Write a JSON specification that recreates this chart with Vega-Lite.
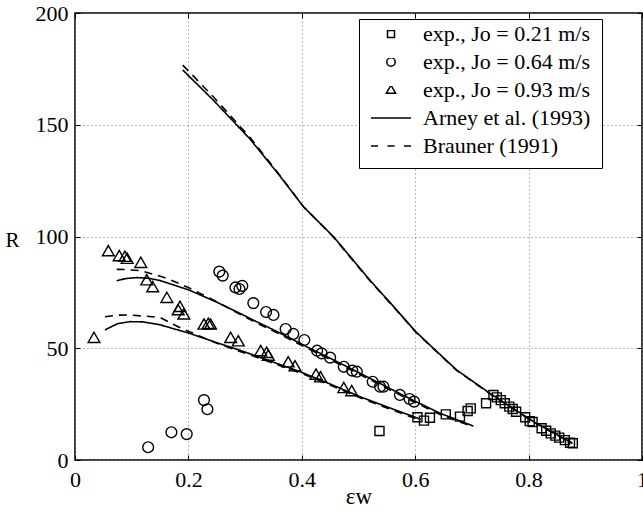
{
  "$schema": "https://vega.github.io/schema/vega-lite/v6.json",
  "width": 567,
  "height": 447,
  "autosize": {"type": "none"},
  "padding": {"left": 75, "top": 13, "right": 1, "bottom": 55},
  "background": "white",
  "config": {
    "font": "Liberation Serif",
    "view": {"stroke": "black", "strokeWidth": 1.5},
    "axis": {"domain": false, "tickColor": "black", "tickWidth": 1, "labelColor": "black", "titleColor": "black", "labelFont": "Liberation Serif", "titleFont": "Liberation Serif", "titleFontWeight": "normal"},
    "legend": {"labelFont": "Liberation Serif"}
  },
  "datasets": {
    "lines": [
      {"m": "Arney", "c": "a1", "x": 0.19, "R": 174.5},
      {"m": "Arney", "c": "a1", "x": 0.244, "R": 161},
      {"m": "Arney", "c": "a1", "x": 0.309, "R": 143.5},
      {"m": "Arney", "c": "a1", "x": 0.36, "R": 127.5},
      {"m": "Arney", "c": "a1", "x": 0.403, "R": 113.3},
      {"m": "Arney", "c": "a1", "x": 0.456, "R": 99.9},
      {"m": "Arney", "c": "a1", "x": 0.52, "R": 80.5},
      {"m": "Arney", "c": "a1", "x": 0.56, "R": 69.2},
      {"m": "Arney", "c": "a1", "x": 0.601, "R": 57.4},
      {"m": "Arney", "c": "a1", "x": 0.632, "R": 50},
      {"m": "Arney", "c": "a1", "x": 0.673, "R": 40.3},
      {"m": "Arney", "c": "a1", "x": 0.732, "R": 29.8},
      {"m": "Arney", "c": "a1", "x": 0.77, "R": 23.5},
      {"m": "Arney", "c": "a1", "x": 0.81, "R": 17},
      {"m": "Arney", "c": "a1", "x": 0.85, "R": 11.3},
      {"m": "Arney", "c": "a1", "x": 0.877, "R": 7.6},
      {"m": "Brauner", "c": "b1", "x": 0.19, "R": 176.7},
      {"m": "Brauner", "c": "b1", "x": 0.244, "R": 162.5},
      {"m": "Brauner", "c": "b1", "x": 0.309, "R": 144.2},
      {"m": "Brauner", "c": "b1", "x": 0.36, "R": 127.8},
      {"m": "Brauner", "c": "b1", "x": 0.403, "R": 113.3},
      {"m": "Brauner", "c": "b1", "x": 0.456, "R": 99.7},
      {"m": "Brauner", "c": "b1", "x": 0.52, "R": 80.2},
      {"m": "Brauner", "c": "b1", "x": 0.56, "R": 69},
      {"m": "Brauner", "c": "b1", "x": 0.601, "R": 57.2},
      {"m": "Brauner", "c": "b1", "x": 0.632, "R": 49.8},
      {"m": "Brauner", "c": "b1", "x": 0.673, "R": 40.1},
      {"m": "Brauner", "c": "b1", "x": 0.732, "R": 29.6},
      {"m": "Brauner", "c": "b1", "x": 0.77, "R": 23.3},
      {"m": "Brauner", "c": "b1", "x": 0.81, "R": 16.8},
      {"m": "Brauner", "c": "b1", "x": 0.85, "R": 11.1},
      {"m": "Brauner", "c": "b1", "x": 0.877, "R": 7.4},
      {"m": "Arney", "c": "a2", "x": 0.0735, "R": 80.2},
      {"m": "Arney", "c": "a2", "x": 0.09, "R": 81.2},
      {"m": "Arney", "c": "a2", "x": 0.109, "R": 81.6},
      {"m": "Arney", "c": "a2", "x": 0.13, "R": 81.3},
      {"m": "Arney", "c": "a2", "x": 0.15, "R": 80.3},
      {"m": "Arney", "c": "a2", "x": 0.2016, "R": 76},
      {"m": "Arney", "c": "a2", "x": 0.25, "R": 70.6},
      {"m": "Arney", "c": "a2", "x": 0.291, "R": 65.6},
      {"m": "Arney", "c": "a2", "x": 0.3145, "R": 62.6},
      {"m": "Arney", "c": "a2", "x": 0.36, "R": 57},
      {"m": "Arney", "c": "a2", "x": 0.4086, "R": 50.7},
      {"m": "Arney", "c": "a2", "x": 0.47, "R": 43},
      {"m": "Arney", "c": "a2", "x": 0.526, "R": 35.8},
      {"m": "Arney", "c": "a2", "x": 0.59, "R": 27.5},
      {"m": "Arney", "c": "a2", "x": 0.644, "R": 20.9},
      {"m": "Arney", "c": "a2", "x": 0.7025, "R": 15.2},
      {"m": "Brauner", "c": "b2", "x": 0.0735, "R": 85.3},
      {"m": "Brauner", "c": "b2", "x": 0.09, "R": 85.2},
      {"m": "Brauner", "c": "b2", "x": 0.115, "R": 84.7},
      {"m": "Brauner", "c": "b2", "x": 0.14, "R": 83},
      {"m": "Brauner", "c": "b2", "x": 0.162, "R": 81.3},
      {"m": "Brauner", "c": "b2", "x": 0.2016, "R": 77},
      {"m": "Brauner", "c": "b2", "x": 0.25, "R": 70.8},
      {"m": "Brauner", "c": "b2", "x": 0.291, "R": 65.2},
      {"m": "Brauner", "c": "b2", "x": 0.3145, "R": 62.1},
      {"m": "Brauner", "c": "b2", "x": 0.36, "R": 56.4},
      {"m": "Brauner", "c": "b2", "x": 0.4086, "R": 50.1},
      {"m": "Brauner", "c": "b2", "x": 0.47, "R": 42.4},
      {"m": "Brauner", "c": "b2", "x": 0.526, "R": 35.2},
      {"m": "Brauner", "c": "b2", "x": 0.59, "R": 26.9},
      {"m": "Brauner", "c": "b2", "x": 0.644, "R": 20.3},
      {"m": "Brauner", "c": "b2", "x": 0.7025, "R": 14.8},
      {"m": "Arney", "c": "a3", "x": 0.0529, "R": 58.2},
      {"m": "Arney", "c": "a3", "x": 0.075, "R": 61},
      {"m": "Arney", "c": "a3", "x": 0.097, "R": 61.9},
      {"m": "Arney", "c": "a3", "x": 0.12, "R": 61.8},
      {"m": "Arney", "c": "a3", "x": 0.15, "R": 60.5},
      {"m": "Arney", "c": "a3", "x": 0.2016, "R": 56.7},
      {"m": "Arney", "c": "a3", "x": 0.25, "R": 52.5},
      {"m": "Arney", "c": "a3", "x": 0.291, "R": 49.1},
      {"m": "Arney", "c": "a3", "x": 0.3145, "R": 47},
      {"m": "Arney", "c": "a3", "x": 0.397, "R": 39.5},
      {"m": "Arney", "c": "a3", "x": 0.45, "R": 34},
      {"m": "Arney", "c": "a3", "x": 0.503, "R": 28.3},
      {"m": "Arney", "c": "a3", "x": 0.55, "R": 23.8},
      {"m": "Arney", "c": "a3", "x": 0.597, "R": 19.4},
      {"m": "Arney", "c": "a3", "x": 0.61, "R": 18.2},
      {"m": "Brauner", "c": "b3", "x": 0.0529, "R": 64.1},
      {"m": "Brauner", "c": "b3", "x": 0.075, "R": 64.8},
      {"m": "Brauner", "c": "b3", "x": 0.097, "R": 64.9},
      {"m": "Brauner", "c": "b3", "x": 0.15, "R": 63.8},
      {"m": "Brauner", "c": "b3", "x": 0.182, "R": 59.6},
      {"m": "Brauner", "c": "b3", "x": 0.2016, "R": 57.4},
      {"m": "Brauner", "c": "b3", "x": 0.25, "R": 52.2},
      {"m": "Brauner", "c": "b3", "x": 0.291, "R": 48.6},
      {"m": "Brauner", "c": "b3", "x": 0.3145, "R": 46.5},
      {"m": "Brauner", "c": "b3", "x": 0.397, "R": 39},
      {"m": "Brauner", "c": "b3", "x": 0.45, "R": 33.5},
      {"m": "Brauner", "c": "b3", "x": 0.503, "R": 27.8},
      {"m": "Brauner", "c": "b3", "x": 0.55, "R": 23.3},
      {"m": "Brauner", "c": "b3", "x": 0.597, "R": 18.9},
      {"m": "Brauner", "c": "b3", "x": 0.61, "R": 17.7}
    ],
    "pts": [
      {"s": "exp., Jo = 0.21 m/s", "x": 0.537, "R": 13.0},
      {"s": "exp., Jo = 0.21 m/s", "x": 0.604, "R": 19.1},
      {"s": "exp., Jo = 0.21 m/s", "x": 0.6155, "R": 17.6},
      {"s": "exp., Jo = 0.21 m/s", "x": 0.626, "R": 18.9},
      {"s": "exp., Jo = 0.21 m/s", "x": 0.654, "R": 20.4},
      {"s": "exp., Jo = 0.21 m/s", "x": 0.679, "R": 19.4},
      {"s": "exp., Jo = 0.21 m/s", "x": 0.6925, "R": 21.9},
      {"s": "exp., Jo = 0.21 m/s", "x": 0.698, "R": 23.1},
      {"s": "exp., Jo = 0.21 m/s", "x": 0.725, "R": 25.4},
      {"s": "exp., Jo = 0.21 m/s", "x": 0.738, "R": 29.1},
      {"s": "exp., Jo = 0.21 m/s", "x": 0.744, "R": 28.0},
      {"s": "exp., Jo = 0.21 m/s", "x": 0.751, "R": 26.8},
      {"s": "exp., Jo = 0.21 m/s", "x": 0.758, "R": 25.4},
      {"s": "exp., Jo = 0.21 m/s", "x": 0.766, "R": 23.9},
      {"s": "exp., Jo = 0.21 m/s", "x": 0.772, "R": 22.8},
      {"s": "exp., Jo = 0.21 m/s", "x": 0.778, "R": 21.6},
      {"s": "exp., Jo = 0.21 m/s", "x": 0.794, "R": 19.1},
      {"s": "exp., Jo = 0.21 m/s", "x": 0.802, "R": 17.4},
      {"s": "exp., Jo = 0.21 m/s", "x": 0.807, "R": 17.0},
      {"s": "exp., Jo = 0.21 m/s", "x": 0.823, "R": 14.2},
      {"s": "exp., Jo = 0.21 m/s", "x": 0.831, "R": 13.1},
      {"s": "exp., Jo = 0.21 m/s", "x": 0.839, "R": 11.9},
      {"s": "exp., Jo = 0.21 m/s", "x": 0.847, "R": 10.9},
      {"s": "exp., Jo = 0.21 m/s", "x": 0.854, "R": 10.0},
      {"s": "exp., Jo = 0.21 m/s", "x": 0.864, "R": 8.9},
      {"s": "exp., Jo = 0.21 m/s", "x": 0.873, "R": 7.7},
      {"s": "exp., Jo = 0.21 m/s", "x": 0.878, "R": 7.5},
      {"s": "exp., Jo = 0.64 m/s", "x": 0.129, "R": 5.7},
      {"s": "exp., Jo = 0.64 m/s", "x": 0.17, "R": 12.4},
      {"s": "exp., Jo = 0.64 m/s", "x": 0.197, "R": 11.6},
      {"s": "exp., Jo = 0.64 m/s", "x": 0.2275, "R": 26.8},
      {"s": "exp., Jo = 0.64 m/s", "x": 0.2335, "R": 22.7},
      {"s": "exp., Jo = 0.64 m/s", "x": 0.2545, "R": 84.3},
      {"s": "exp., Jo = 0.64 m/s", "x": 0.2605, "R": 82.5},
      {"s": "exp., Jo = 0.64 m/s", "x": 0.283, "R": 77.2},
      {"s": "exp., Jo = 0.64 m/s", "x": 0.29, "R": 76.5},
      {"s": "exp., Jo = 0.64 m/s", "x": 0.295, "R": 77.9},
      {"s": "exp., Jo = 0.64 m/s", "x": 0.3145, "R": 70.2},
      {"s": "exp., Jo = 0.64 m/s", "x": 0.337, "R": 66.2},
      {"s": "exp., Jo = 0.64 m/s", "x": 0.35, "R": 64.9},
      {"s": "exp., Jo = 0.64 m/s", "x": 0.3715, "R": 58.6},
      {"s": "exp., Jo = 0.64 m/s", "x": 0.385, "R": 56.4},
      {"s": "exp., Jo = 0.64 m/s", "x": 0.4045, "R": 53.7},
      {"s": "exp., Jo = 0.64 m/s", "x": 0.427, "R": 48.9},
      {"s": "exp., Jo = 0.64 m/s", "x": 0.435, "R": 47.7},
      {"s": "exp., Jo = 0.64 m/s", "x": 0.45, "R": 45.8},
      {"s": "exp., Jo = 0.64 m/s", "x": 0.474, "R": 41.7},
      {"s": "exp., Jo = 0.64 m/s", "x": 0.489, "R": 40.0},
      {"s": "exp., Jo = 0.64 m/s", "x": 0.497, "R": 39.5},
      {"s": "exp., Jo = 0.64 m/s", "x": 0.525, "R": 35.0},
      {"s": "exp., Jo = 0.64 m/s", "x": 0.538, "R": 32.8},
      {"s": "exp., Jo = 0.64 m/s", "x": 0.544, "R": 32.8},
      {"s": "exp., Jo = 0.64 m/s", "x": 0.573, "R": 29.1},
      {"s": "exp., Jo = 0.64 m/s", "x": 0.59, "R": 27.3},
      {"s": "exp., Jo = 0.64 m/s", "x": 0.598, "R": 26.1},
      {"s": "exp., Jo = 0.93 m/s", "x": 0.0335, "R": 54.4},
      {"s": "exp., Jo = 0.93 m/s", "x": 0.0588, "R": 93.2},
      {"s": "exp., Jo = 0.93 m/s", "x": 0.078, "R": 91.0},
      {"s": "exp., Jo = 0.93 m/s", "x": 0.088, "R": 90.7},
      {"s": "exp., Jo = 0.93 m/s", "x": 0.092, "R": 89.8},
      {"s": "exp., Jo = 0.93 m/s", "x": 0.116, "R": 88.0},
      {"s": "exp., Jo = 0.93 m/s", "x": 0.1265, "R": 80.2},
      {"s": "exp., Jo = 0.93 m/s", "x": 0.137, "R": 77.1},
      {"s": "exp., Jo = 0.93 m/s", "x": 0.162, "R": 72.3},
      {"s": "exp., Jo = 0.93 m/s", "x": 0.182, "R": 66.8},
      {"s": "exp., Jo = 0.93 m/s", "x": 0.185, "R": 68.3},
      {"s": "exp., Jo = 0.93 m/s", "x": 0.192, "R": 64.9},
      {"s": "exp., Jo = 0.93 m/s", "x": 0.2275, "R": 60.4},
      {"s": "exp., Jo = 0.93 m/s", "x": 0.235, "R": 60.7},
      {"s": "exp., Jo = 0.93 m/s", "x": 0.239, "R": 60.4},
      {"s": "exp., Jo = 0.93 m/s", "x": 0.2745, "R": 54.4},
      {"s": "exp., Jo = 0.93 m/s", "x": 0.288, "R": 52.9},
      {"s": "exp., Jo = 0.93 m/s", "x": 0.3275, "R": 48.5},
      {"s": "exp., Jo = 0.93 m/s", "x": 0.338, "R": 47.7},
      {"s": "exp., Jo = 0.93 m/s", "x": 0.341, "R": 46.5},
      {"s": "exp., Jo = 0.93 m/s", "x": 0.376, "R": 43.5},
      {"s": "exp., Jo = 0.93 m/s", "x": 0.388, "R": 41.7},
      {"s": "exp., Jo = 0.93 m/s", "x": 0.425, "R": 38.0},
      {"s": "exp., Jo = 0.93 m/s", "x": 0.433, "R": 36.8},
      {"s": "exp., Jo = 0.93 m/s", "x": 0.474, "R": 32.0},
      {"s": "exp., Jo = 0.93 m/s", "x": 0.488, "R": 30.6}
    ]
  },
  "layer": [
    {
      "data": {"name": "lines"},
      "mark": {"type": "line", "color": "black", "strokeWidth": 1.6},
      "encoding": {
        "x": {"field": "x", "type": "quantitative", "scale": {"domain": [0, 1], "nice": false, "zero": false},
          "axis": {"values": [0, 0.2, 0.4, 0.6, 0.8, 1], "format": "~g", "grid": true, "gridDash": [1, 3], "gridColor": "#777", "gridWidth": 1, "tickSize": -5, "labelPadding": 14, "labelFontSize": 22, "labelFlush": false, "title": "εw", "titleFontSize": 23, "titleBaseline": "alphabetic", "titleY": 43, "titlePadding": 0}},
        "y": {"field": "R", "type": "quantitative", "scale": {"domain": [0, 200], "nice": false},
          "axis": {"values": [0, 50, 100, 150, 200], "grid": true, "gridDash": [1, 3], "gridColor": "#777", "gridWidth": 1, "tickSize": -5, "labelPadding": 12, "labelFontSize": 22, "labelFlush": false, "title": "R", "titleAngle": 0, "titleFontSize": 21, "titleX": -63, "titleY": 227, "titleAlign": "center", "titleBaseline": "middle"}},
        "detail": {"field": "c"},
        "strokeDash": {"field": "m", "type": "nominal", "scale": {"domain": ["Arney", "Brauner"], "range": [[1, 0], [8, 6]]}, "legend": null}
      }
    },
    {
      "data": {"name": "pts"},
      "mark": {"type": "point", "filled": false, "stroke": "black", "strokeWidth": 1.4, "size": 2644, "opacity": 1},
      "encoding": {
        "x": {"field": "x", "type": "quantitative", "axis": {"orient": "top", "values": [0, 0.2, 0.4, 0.6, 0.8, 1], "labels": false, "grid": false, "tickSize": -5, "title": null}},
        "y": {"field": "R", "type": "quantitative", "axis": {"orient": "right", "values": [0, 50, 100, 150, 200], "labels": false, "grid": false, "tickSize": -5, "title": null}},
        "shape": {"field": "s", "type": "nominal",
          "scale": {"domain": ["exp., Jo = 0.21 m/s", "exp., Jo = 0.64 m/s", "exp., Jo = 0.93 m/s", "Arney et al. (1993)", "Brauner (1991)"],
            "range": ["M-0.175,-0.175H0.175V0.175H-0.175Z", "M0.21,0A0.21,0.21,0,1,1,-0.21,0A0.21,0.21,0,1,1,0.21,0Z", "M0,-0.24L0.23,0.16L-0.23,0.16Z", "M-1,0H1", "M-1,0H-0.65M-0.18,0H0.18M0.65,0H1"]},
          "legend": {"orient": "none", "legendX": 284, "legendY": 6, "title": null, "strokeColor": "black", "fillColor": "white", "padding": 11, "labelFontSize": 22, "labelColor": "black", "labelLimit": 0, "labelOffset": 11, "labelExpr": "datum.label + '\u00a0\u00a0\u00a0'", "symbolSize": 1600, "symbolStrokeColor": "black", "symbolFillColor": "transparent", "symbolStrokeWidth": 1.5, "clipHeight": 8, "rowPadding": 6}}
      }
    }
  ],
  "resolve": {"axis": {"x": "independent", "y": "independent"}}
}
